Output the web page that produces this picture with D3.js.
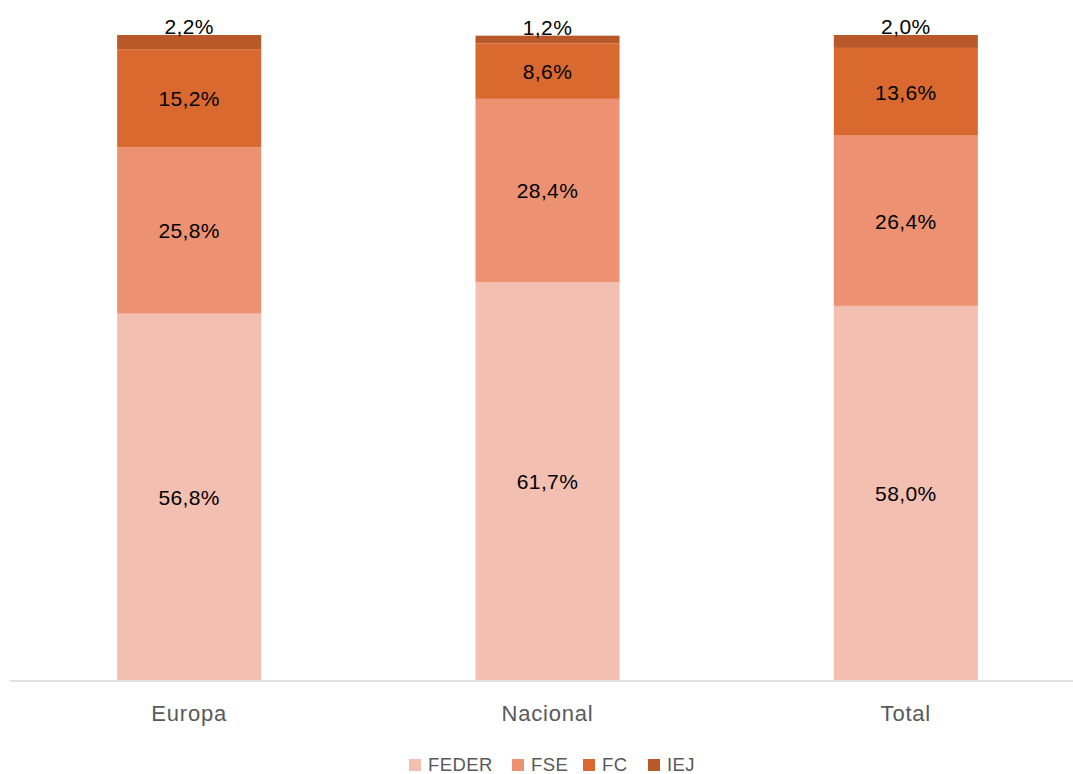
<!DOCTYPE html>
<html>
<head>
<meta charset="utf-8">
<script src="https://cdn.jsdelivr.net/npm/d3@7"></script>
<style>
  body { margin: 0; background: #fff; }
  text { font-family: "Liberation Sans", Arial, sans-serif; }
</style>
</head>
<body>
<svg id="chart" width="1073" height="774"></svg>
<script>
// data
const categories = ['Europa', 'Nacional', 'Total'];
const seriesNames = ['FEDER', 'FSE', 'FC', 'IEJ'];
const feder = [56.8, 61.7, 58.0];
const fse   = [25.8, 28.4, 26.4];
const fc    = [15.2, 8.6, 13.6];
const iej   = [2.2, 1.2, 2.0];
const colors = ['#F3BFB0', '#EC9273', '#DA692F', '#B95828'];

const svg = d3.select('#chart');
const baseY = 680, topY = 35;

const x = d3.scaleBand().domain(categories).range([10, 1085]).paddingInner(0.598).paddingOuter(0.299);
const y = d3.scaleLinear().domain([0, 100]).range([baseY, topY]);

const rows = categories.map((c, i) => ({ cat: c, FEDER: feder[i], FSE: fse[i], FC: fc[i], IEJ: iej[i] }));
const stacked = d3.stack().keys(seriesNames)(rows);

const fmt = v => v.toFixed(1).replace('.', ',') + '%';

const layers = svg.append('g').selectAll('g')
  .data(stacked).enter().append('g')
  .attr('fill', (_, i) => colors[i]);

layers.selectAll('rect')
  .data(d => d).enter().append('rect')
  .attr('x', d => x(d.data.cat))
  .attr('width', x.bandwidth())
  .attr('y', d => y(d[1]))
  .attr('height', d => y(d[0]) - y(d[1]));

// axis line
svg.append('line')
  .attr('x1', 10).attr('x2', 1073)
  .attr('y1', baseY + 1).attr('y2', baseY + 1)
  .attr('stroke', '#D9D9D9').attr('stroke-width', 1.5);

// data labels
stacked.forEach((layer, li) => {
  svg.append('g').selectAll('text')
    .data(layer).enter().append('text')
    .attr('x', d => x(d.data.cat) + x.bandwidth() / 2)
    .attr('y', d => li === 3 ? y(d[1]) - 1 : (y(d[0]) + y(d[1])) / 2 + 8)
    .attr('text-anchor', 'middle')
    .attr('font-size', 21)
    .attr('letter-spacing', 0.4)
    .attr('fill', '#000')
    .text(d => fmt(d[1] - d[0]));
});

// category labels
svg.append('g').selectAll('text')
  .data(categories).enter().append('text')
  .attr('x', d => x(d) + x.bandwidth() / 2)
  .attr('y', 721)
  .attr('text-anchor', 'middle')
  .attr('font-size', 22)
  .attr('letter-spacing', 0.8)
  .attr('fill', '#595959')
  .text(d => d);

// legend
const legendX = [409, 512, 583, 648];
const lg = svg.append('g').selectAll('g')
  .data(seriesNames).enter().append('g')
  .attr('transform', (_, i) => `translate(${legendX[i]},759)`);
lg.append('rect').attr('width', 12).attr('height', 12).attr('fill', (_, i) => colors[i]);
lg.append('text').attr('x', 19).attr('y', 12)
  .attr('font-size', 18.5).attr('letter-spacing', 0.4)
  .attr('fill', '#595959').text(d => d);
</script>
</body>
</html>
